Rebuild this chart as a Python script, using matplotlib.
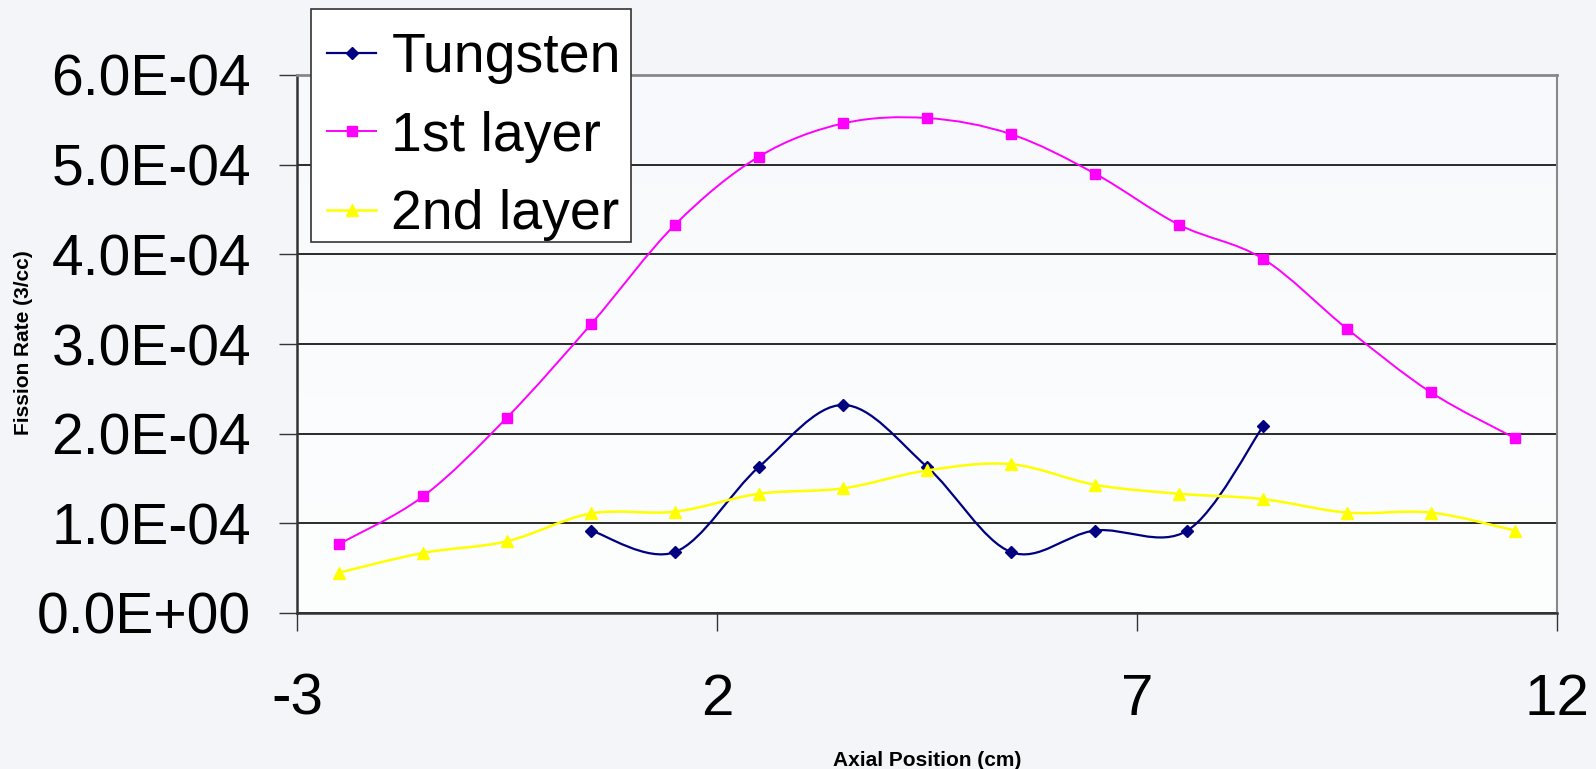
import numpy as np
import matplotlib.pyplot as plt
from matplotlib.path import Path
from matplotlib.patches import PathPatch, Rectangle
from matplotlib.lines import Line2D
from matplotlib.colors import LinearSegmentedColormap
from matplotlib.ticker import FuncFormatter

plt.rcParams['font.family'] = ['Liberation Sans', 'DejaVu Sans']
plt.rcParams['axes.unicode_minus'] = False

# axial positions (cm) and fission rates (units of 1E-4 per cc)
x_layers = [-2.5, -1.5, -0.5, 0.5, 1.5, 2.5, 3.5, 4.5, 5.5, 6.5, 7.5, 8.5, 9.5, 10.5, 11.5]
first_layer = [0.77, 1.30, 2.18, 3.22, 4.33, 5.09, 5.46, 5.52, 5.34, 4.90, 4.33, 3.95, 3.17, 2.46, 1.95]
second_layer = [0.45, 0.67, 0.80, 1.11, 1.13, 1.33, 1.39, 1.59, 1.66, 1.43, 1.33, 1.27, 1.12, 1.12, 0.92]
x_tungsten = [0.5, 1.5, 2.5, 3.5, 4.5, 5.5, 6.5, 7.6, 8.5]
tungsten = [0.92, 0.68, 1.63, 2.32, 1.63, 0.68, 0.92, 0.92, 2.08]

series = [
    ("Tungsten", x_tungsten, tungsten, "#000080", "D", 6.5, 1.6),
    ("1st layer", x_layers, first_layer, "#FF00FF", "s", 7.2, 1.4),
    ("2nd layer", x_layers, second_layer, "#FFFF00", "^", 8.5, 1.8),
]


def smooth_path(x, y):
    # Excel-style smoothed line: cubic bezier through the points
    pts = np.column_stack([x, y])
    n = len(pts)
    verts = [pts[0]]
    codes = [Path.MOVETO]
    for i in range(n - 1):
        p0 = pts[max(i - 1, 0)]
        p1 = pts[i]
        p2 = pts[i + 1]
        p3 = pts[min(i + 2, n - 1)]
        verts += [p1 + (p2 - p0) / 6, p2 - (p3 - p1) / 6, p2]
        codes += [Path.CURVE4] * 3
    return Path(verts, codes)


W, H = 1596, 769
fig = plt.figure(figsize=(W / 100, H / 100), dpi=100, facecolor="#F3F5F8")
ax = fig.add_axes([297 / W, 1 - 613 / H, 1260 / W, 538 / H])

grad = LinearSegmentedColormap.from_list("bg", ["#FDFEFE", "#F7F9FC"])
ax.imshow(np.linspace(0, 1, 256).reshape(-1, 1), extent=[-3, 12, 0, 6e-4],
          origin="lower", aspect="auto", cmap=grad, zorder=0)

handles = []
for i, (label, xs, ys, color, marker, ms, lw) in enumerate(series):
    ys = np.array(ys) * 1e-4
    ax.add_patch(PathPatch(smooth_path(xs, ys), facecolor="none", edgecolor=color,
                           lw=lw, zorder=3 + i))
    ax.plot(xs, ys, linestyle="none", marker=marker, ms=ms, color=color, zorder=3 + i)
    handles.append(Line2D([], [], color=color, lw=lw, marker=marker, ms=ms))

ax.set_xlim(-3, 12)
ax.set_ylim(0, 6e-4)
ax.set_xticks([-3, 2, 7, 12])
ax.set_yticks(np.arange(0, 7) * 1e-4)
ax.yaxis.set_major_formatter(FuncFormatter(lambda v, p: "%.1E" % v))
ax.yaxis.grid(True, color="#1a1a1a", lw=1.3, zorder=1)
ax.set_axisbelow(True)
ax.tick_params(axis="both", length=13, width=1.0, color="#333333", direction="out")
ax.tick_params(axis="y", labelsize=41, pad=20)
ax.tick_params(axis="x", labelsize=42, pad=30)
for side in ["left", "bottom"]:
    ax.spines[side].set_color("#333333")
    ax.spines[side].set_linewidth(1.8)
ax.spines["right"].set_color("#888888")
ax.spines["right"].set_linewidth(1.5)
ax.spines["top"].set_color("#888888")
ax.spines["top"].set_linewidth(2.0)

fig.text(927 / W, 1 - 760 / H, "Axial Position (cm)", fontsize=15,
         fontweight="bold", ha="center", va="center")
fig.text(24 / W, 1 - 343 / H, "Fission Rate (3/cc)", fontsize=15,
         fontweight="bold", rotation=90, ha="center", va="center")

# legend box drawn separately so the rows can sit where they do in the original
fig.patches.append(Rectangle((310.7 / W, 1 - 241.7 / H), 320.3 / W, 232.4 / H,
                             transform=fig.transFigure, facecolor="white",
                             edgecolor="#333333", lw=1.2, zorder=4))
leg = fig.legend(handles, [s[0] for s in series], loc="upper left",
                 bbox_to_anchor=(310.7 / W, 1 - 15.3 / H), borderaxespad=0,
                 fontsize=40, handlelength=0.87, handletextpad=0.28,
                 labelspacing=0.48, borderpad=0.3, frameon=False)
leg.set_zorder(5)

fig.savefig("out.png", dpi=100, facecolor=fig.get_facecolor())
